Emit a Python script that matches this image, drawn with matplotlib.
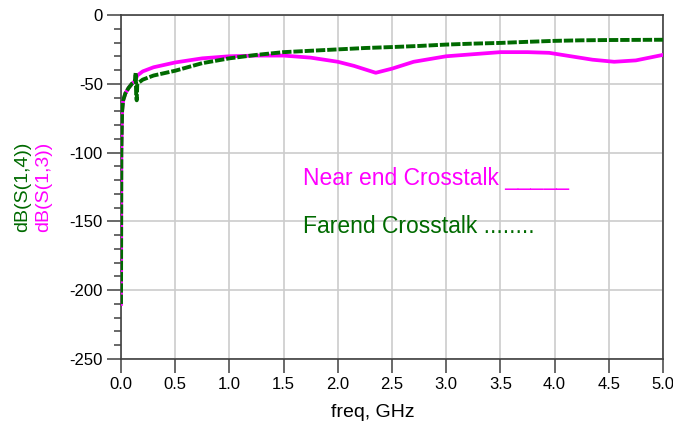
import numpy as np
import matplotlib.pyplot as plt
from matplotlib.ticker import MultipleLocator

plt.rcParams['font.family'] = ['Liberation Sans', 'DejaVu Sans']
plt.rcParams['axes.unicode_minus'] = False

# far end crosstalk dB(S(1,4))
f_far = [0, 0.003, 0.01, 0.02, 0.04, 0.07, 0.1, 0.13, 0.135, 0.14, 0.145, 0.15,
         0.2, 0.3, 0.5, 0.75, 1.0, 1.25, 1.5, 1.75, 2.0, 2.25, 2.5, 2.75, 3.0,
         3.25, 3.5, 3.75, 4.0, 4.25, 4.5, 4.75, 5.0]
s14 = [-210, -100, -70, -62, -57, -53, -50, -48, -42, -58, -62, -50,
       -47, -44, -40.5, -35, -31.5, -29, -27, -26, -25, -24, -23.3, -22.5, -21.5,
       -20.8, -20.3, -19.5, -18.8, -18.4, -18.2, -18.1, -18]

# near end crosstalk dB(S(1,3))
f_near = [0, 0.003, 0.01, 0.02, 0.04, 0.07, 0.1, 0.13, 0.14, 0.15, 0.2, 0.3,
          0.5, 0.75, 1.0, 1.25, 1.5, 1.75, 2.0, 2.15, 2.35, 2.5, 2.7, 3.0, 3.25,
          3.5, 3.75, 3.95, 4.15, 4.35, 4.55, 4.75, 5.0]
s13 = [-210, -100, -70, -62, -57, -53, -50, -48, -46, -44, -41, -38,
       -34.5, -31.5, -30, -29.5, -29.5, -31, -34, -37, -42, -39, -34, -30, -28.5,
       -27, -27, -27.5, -30, -32.5, -34, -33, -29]

magenta = '#ff00ff'
green = '#006a00'

fig = plt.figure(figsize=(6.73, 4.32), dpi=100)
ax = fig.add_axes([0.1798, 0.169, 0.8053, 0.7963])

ax.plot(f_near, s13, color=magenta, lw=2.7, zorder=3)
ax.plot(f_far, s14, color=green, lw=2.8, linestyle=(0, (2.4, 0.5)), zorder=4)

ax.set_xlim(0, 5)
ax.set_ylim(-250, 0)
ax.xaxis.set_major_locator(MultipleLocator(0.5))
ax.yaxis.set_major_locator(MultipleLocator(50))
ax.yaxis.set_minor_locator(MultipleLocator(10))
ax.xaxis.set_major_formatter(plt.FuncFormatter(lambda v, p: '%.1f' % v))
ax.grid(True, which='major', color='#cccccc', lw=1.2)
ax.set_axisbelow(True)

ax.tick_params(axis='both', which='major', direction='out', length=10, width=1.1,
               color='#404040', labelsize=12, pad=3)
ax.tick_params(axis='y', which='minor', direction='out', length=5, width=1.1, color='#404040')
for s in ax.spines.values():
    s.set_color('#404040')
    s.set_linewidth(1.2)

fig.text(0.554, 0.046, 'freq, GHz', ha='center', va='center', fontsize=14)
fig.text(0.033, 0.567, 'dB(S(1,4))', rotation=90, ha='center', va='center',
         fontsize=14, color=green)
fig.text(0.065, 0.567, 'dB(S(1,3))', rotation=90, ha='center', va='center',
         fontsize=14, color=magenta)

ax.text(0.335, 0.505, 'Near end Crosstalk _____', transform=ax.transAxes,
        fontsize=16.5, color=magenta, va='baseline')
ax.text(0.335, 0.365, 'Farend Crosstalk ........', transform=ax.transAxes,
        fontsize=16.5, color=green, va='baseline')

fig.savefig('out.png', dpi=100)
